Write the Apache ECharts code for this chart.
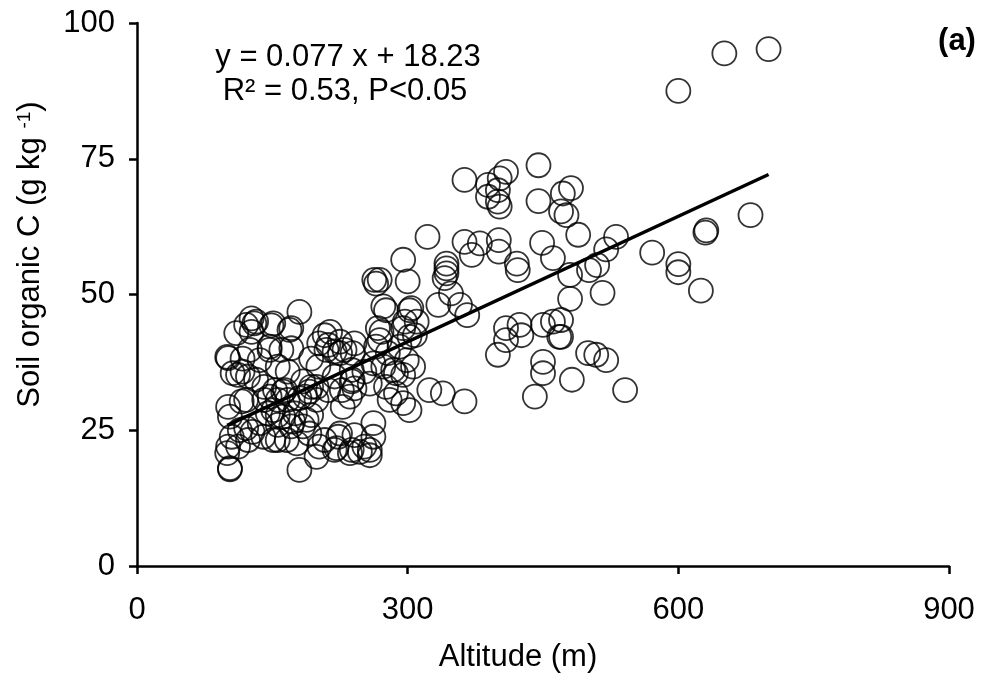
<!DOCTYPE html>
<html>
<head>
<meta charset="utf-8">
<script src="https://cdn.jsdelivr.net/npm/echarts@6/dist/echarts.min.js"></script>
<style>
html,body{margin:0;padding:0;background:#fff;}
#chart{width:984px;height:693px;}
</style>
</head>
<body>
<div id="chart"></div>
<script>
// Altitude (m) of each sample
const altitude = [
651,700,600,680,630,631,571,600,600,625,531,520,510,501,516,481,472,476,470,489,
480,480,470,470,500,509,520,541,482,450,450,441,450,461,468,409,424,426,409,400,
363,445,363,409,402,389,400,389,400,402,445,449,461,421,422,363,380,371,401,401,
358,366,322,295,343,343,343,341,348,334,269,263,300,273,304,297,310,180,271,308,
339,265,276,302,132,121,151,169,214,225,269,295,302,202,210,225,239,136,147,262,
273,284,306,295,239,199,191,180,162,147,276,287,280,295,324,236,228,302,262,151,
162,173,188,184,191,136,128,151,166,177,202,221,225,199,180,236,247,258,110,130,
127,100,101,117,106,117,112,101,116,103,105,101,112,103,103,121,140,121,132,100,
114,127,149,171,125,147,160,171,208,230,241,212,219,267,193,201,156,167,123,238,
238,241,252,258,219,212,227,184,193,186,199,141,153,164,141,156,167,145,156,175,
193,156,171,208,223,241,156,219,238,252,262,258,123,265,278,291,299,287
];
// Soil organic C (g kg-1) of each sample
const soc = [
94.4,95.2,87.5,64.6,61.4,61.8,57.7,55.6,54.1,50.7,60.6,58.3,55.4,54.5,50.3,69.6,68.6,64.6,65.3,61.0,
49.2,53.6,45.3,42.2,39.2,38.9,37.9,32.4,34.3,37.6,35.5,31.2,44.4,45.0,42.2,43.8,44.4,42.5,41.6,38.9,
30.3,73.8,71.1,72.6,71.4,70.2,69.2,68.0,67.1,66.2,67.2,59.5,56.7,55.7,54.5,59.7,59.4,57.3,60.0,57.9,
48.1,46.2,60.6,56.4,55.7,54.8,53.9,53.0,50.2,48.1,52.7,52.7,52.4,47.8,47.5,45.0,45.0,46.8,43.1,42.5,
31.8,52.0,47.1,47.1,45.0,44.4,44.7,43.5,43.1,41.3,41.6,43.8,42.2,41.0,39.8,39.2,39.2,37.9,39.8,37.3,
36.7,36.1,36.7,35.2,34.3,33.0,32.1,30.9,32.1,31.2,33.0,31.8,30.6,30.0,32.4,31.2,29.3,28.7,26.3,28.7,
27.5,26.6,26.9,25.7,24.4,26.3,24.7,23.2,23.2,22.6,22.0,21.7,24.4,20.1,17.7,20.8,21.0,21.4,42.9,44.7,
43.1,38.5,38.3,38.2,35.5,35.8,35.2,29.3,30.3,27.5,23.8,22.0,22.0,18.0,17.8,25.4,23.8,30.6,34.3,20.8,
25.0,45.6,44.3,43.8,39.8,40.4,39.8,40.1,42.5,39.8,41.0,40.7,39.5,43.8,38.2,36.7,36.7,35.8,34.9,36.1,
34.0,32.7,35.8,33.6,34.9,32.4,32.4,34.0,33.0,31.2,30.6,33.0,32.4,32.4,30.6,30.6,30.6,28.1,27.8,28.1,
27.8,26.0,25.7,23.2,23.8,24.1,23.2,21.4,21.4,22.0,23.8,20.4,23.2,40.4,39.2,40.4,37.9,35.5
];
// Fitted regression line endpoints
const fitX = [100, 700];
const fitY = [25.9, 72.1];
const xTicks = [0, 300, 600, 900];
const yTicks = [0, 25, 50, 75, 100];
const eqLine1 = 'y = 0.077 x + 18.23';
const eqLine2 = 'R\u00B2 = 0.53, P<0.05';
const panelLabel = '(a)';

const points = altitude.map((a, i) => [a, soc[i]]);
const fitData = fitX.map((x, i) => [x, fitY[i]]);

const FONT = '"Liberation Sans", Arial, sans-serif';
const chart = echarts.init(document.getElementById('chart'), null, {renderer: 'canvas'});
const axisCommon = {
  axisLine: {show: true, onZero: false, lineStyle: {color: '#000', width: 2.5}},
  axisTick: {show: true, inside: false, length: 8, lineStyle: {color: '#000', width: 2.5}},
  splitLine: {show: false},
};
chart.setOption({
  animation: false,
  backgroundColor: '#fff',
  grid: {left: 137, right: 35, top: 23, bottom: 127, containLabel: false},
  xAxis: Object.assign({
    type: 'value', min: xTicks[0], max: xTicks[xTicks.length - 1], interval: 300,
    name: 'Altitude (m)', nameLocation: 'middle', nameGap: 76,
    nameTextStyle: {fontFamily: FONT, fontSize: 31, color: '#000', padding: [0, 50, 0, 0]},
    axisLabel: {fontFamily: FONT, fontSize: 31, color: '#000', margin: 29}
  }, axisCommon),
  yAxis: Object.assign({
    type: 'value', min: yTicks[0], max: yTicks[yTicks.length - 1], interval: 25,
    name: 'Soil organic C (g kg {sup|-1})', nameLocation: 'middle', nameGap: 91, nameRotate: 90,
    nameTextStyle: {fontFamily: FONT, fontSize: 31, color: '#000', padding: [0, 0, 0, 80],
      rich: {sup: {fontFamily: FONT, fontSize: 19, color: '#000', verticalAlign: 'top', lineHeight: 31}}},
    axisLabel: {fontFamily: FONT, fontSize: 31, color: '#000', margin: 22}
  }, axisCommon),
  series: [
    {
      type: 'scatter', data: points, symbol: 'circle', symbolSize: 24,
      itemStyle: {color: 'rgba(255,255,255,0)', borderColor: '#000', borderWidth: 1.8},
      z: 2
    },
    {
      type: 'line', data: fitData, showSymbol: false, symbol: 'none',
      lineStyle: {color: '#000', width: 3.5}, z: 3
    }
  ],
  graphic: [
    {type: 'text', x: 348, y: 57, style: {text: eqLine1, fontFamily: FONT, fontSize: 31, fill: '#000', align: 'center', verticalAlign: 'middle'}},
    {type: 'text', x: 345, y: 91, style: {text: eqLine2, fontFamily: FONT, fontSize: 31, fill: '#000', align: 'center', verticalAlign: 'middle'}},
    {type: 'text', x: 957, y: 41, style: {text: panelLabel, fontFamily: FONT, fontSize: 31, fontWeight: 'bold', fill: '#000', align: 'center', verticalAlign: 'middle'}}
  ]
});
</script>
</body>
</html>
